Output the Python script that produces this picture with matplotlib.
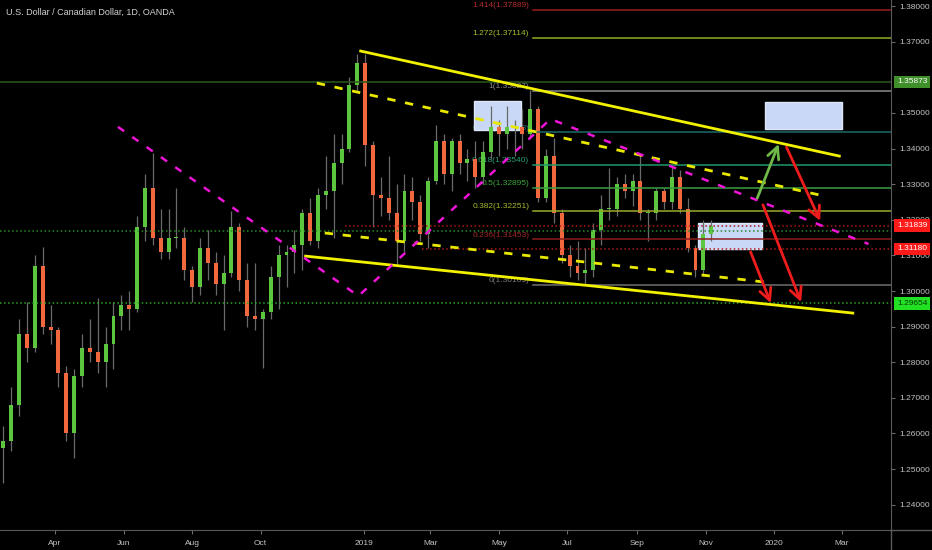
import numpy as np
import pandas as pd
import matplotlib
matplotlib.use("Agg")
import matplotlib.pyplot as plt
import matplotlib.dates as mdates
from matplotlib.lines import Line2D
from matplotlib.transforms import blended_transform_factory

plt.rcParams['font.family'] = ['Liberation Sans', 'DejaVu Sans']

# velas semanales USDCAD (semana que empieza el lunes)
primer_lunes = "2018-02-12"
apertura = [1.2560, 1.2580, 1.2680, 1.2880, 1.2840, 1.3070, 1.2900, 1.2890, 1.2770, 1.2600,
            1.2760, 1.2840, 1.2830, 1.2800, 1.2850, 1.2930, 1.2960, 1.2950, 1.3180, 1.3290,
            1.3150, 1.3110, 1.3150, 1.3150, 1.3060, 1.3010, 1.3120, 1.3080, 1.3020, 1.3050,
            1.3180, 1.3030, 1.2930, 1.2920, 1.2940, 1.3040, 1.3100, 1.3110, 1.3130, 1.3220,
            1.3140, 1.3270, 1.3280, 1.3360, 1.3400, 1.3580, 1.3640, 1.3410, 1.3270, 1.3260,
            1.3220, 1.3140, 1.3280, 1.3250, 1.3160, 1.3310, 1.3420, 1.3330, 1.3420, 1.3360,
            1.3370, 1.3320, 1.3390, 1.3460, 1.3440, 1.3460, 1.3460, 1.3440, 1.3510, 1.3260,
            1.3380, 1.3220, 1.3100, 1.3070, 1.3050, 1.3060, 1.3170, 1.3230, 1.3230, 1.3300,
            1.3280, 1.3310, 1.3220, 1.3220, 1.3280, 1.3250, 1.3320, 1.3230, 1.3120, 1.3060,
            1.3160]
maximo = [1.2620, 1.2730, 1.2920, 1.2970, 1.3100, 1.3125, 1.2960, 1.2900, 1.2790, 1.2780,
          1.2880, 1.2920, 1.2980, 1.2900, 1.2970, 1.2990, 1.3000, 1.3210, 1.3330, 1.3387,
          1.3230, 1.3230, 1.3290, 1.3180, 1.3070, 1.3150, 1.3170, 1.3110, 1.3100, 1.3225,
          1.3190, 1.3080, 1.3080, 1.2950, 1.3070, 1.3130, 1.3130, 1.3170, 1.3230, 1.3260,
          1.3290, 1.3380, 1.3440, 1.3440, 1.3600, 1.3665, 1.3665, 1.3420, 1.3320, 1.3380,
          1.3300, 1.3330, 1.3320, 1.3270, 1.3320, 1.3467, 1.3440, 1.3430, 1.3440, 1.3400,
          1.3420, 1.3420, 1.3520, 1.3480, 1.3520, 1.3480, 1.3510, 1.3565, 1.3520, 1.3400,
          1.3430, 1.3230, 1.3130, 1.3140, 1.3120, 1.3190, 1.3270, 1.3345, 1.3320, 1.3330,
          1.3330, 1.3384, 1.3230, 1.3290, 1.3290, 1.3348, 1.3340, 1.3260, 1.3130, 1.3200,
          1.3200]
minimo = [1.2460, 1.2550, 1.2650, 1.2800, 1.2830, 1.2880, 1.2850, 1.2730, 1.2580, 1.2530,
          1.2730, 1.2800, 1.2770, 1.2730, 1.2780, 1.2890, 1.2890, 1.2940, 1.3140, 1.3130,
          1.3090, 1.3090, 1.3120, 1.3030, 1.2970, 1.2990, 1.3030, 1.2990, 1.2890, 1.3040,
          1.3000, 1.2900, 1.2890, 1.2785, 1.2920, 1.2950, 1.3010, 1.3050, 1.3060, 1.3130,
          1.3120, 1.3230, 1.3150, 1.3300, 1.3390, 1.3560, 1.3350, 1.3180, 1.3210, 1.3200,
          1.3070, 1.3110, 1.3200, 1.3140, 1.3120, 1.3300, 1.3300, 1.3280, 1.3330, 1.3310,
          1.3290, 1.3300, 1.3370, 1.3380, 1.3400, 1.3380, 1.3400, 1.3430, 1.3250, 1.3250,
          1.3190, 1.3080, 1.3040, 1.3030, 1.3016, 1.3040, 1.3130, 1.3200, 1.3210, 1.3260,
          1.3240, 1.3200, 1.3140, 1.3200, 1.3230, 1.3230, 1.3220, 1.3110, 1.3040, 1.3042,
          1.3140]
cierre = [1.2580, 1.2680, 1.2880, 1.2840, 1.3070, 1.2900, 1.2890, 1.2770, 1.2600, 1.2760,
          1.2840, 1.2830, 1.2800, 1.2850, 1.2930, 1.2960, 1.2950, 1.3180, 1.3290, 1.3150,
          1.3110, 1.3150, 1.3150, 1.3060, 1.3010, 1.3120, 1.3080, 1.3020, 1.3050, 1.3180,
          1.3030, 1.2930, 1.2920, 1.2940, 1.3040, 1.3100, 1.3110, 1.3130, 1.3220, 1.3140,
          1.3270, 1.3280, 1.3360, 1.3400, 1.3580, 1.3640, 1.3410, 1.3270, 1.3260, 1.3220,
          1.3140, 1.3280, 1.3250, 1.3160, 1.3310, 1.3420, 1.3330, 1.3420, 1.3360, 1.3370,
          1.3320, 1.3390, 1.3460, 1.3440, 1.3460, 1.3460, 1.3440, 1.3510, 1.3260, 1.3380,
          1.3220, 1.3100, 1.3070, 1.3050, 1.3060, 1.3170, 1.3230, 1.3230, 1.3300, 1.3280,
          1.3310, 1.3220, 1.3220, 1.3280, 1.3250, 1.3320, 1.3230, 1.3120, 1.3060, 1.3160,
          1.3184]

# niveles fibonacci
fib_ratios = ["0", "0.236", "0.382", "0.5", "0.618", "0.786", "1", "1.272", "1.414"]
fib_precios = [1.30163, 1.31453, 1.32251, 1.32895, 1.33540, 1.34458, 1.35627, 1.37114, 1.37889]
fib_colores = ["#6e6e6e", "#8c1c1c", "#9aac28", "#3aa040", "#1f9a6a", "#1e6a6a", "#8a8a8a", "#8fae22", "#9a1e1e"]
fib_texto = ["#7a7a7a", "#a02828", "#a8b830", "#3aa83a", "#2aa070", "#2a8080", "#8a8a8a", "#a0c030", "#b02c2c"]
fib_inicio = "2019-05-31"
fib_etiqueta = "2019-05-28"

# lineas de tendencia
amarilla_sup_f = ["2018-12-29", "2020-02-28"]
amarilla_sup_p = [1.3674, 1.3379]
amarilla_inf_f = ["2018-11-10", "2020-03-11"]
amarilla_inf_p = [1.3098, 1.2938]
discont_sup_f = ["2018-11-20", "2020-02-10"]
discont_sup_p = [1.3584, 1.3270]
discont_inf_f = ["2018-11-27", "2019-12-24"]
discont_inf_p = [1.3163, 1.3025]
magenta_f = ["2018-05-27", "2018-12-27", "2019-06-16", "2020-03-25"]
magenta_p = [1.3461, 1.2986, 1.3483, 1.3132]

# rectangulos
cajas_f = [("2019-04-09", "2019-05-21"), ("2019-12-24", "2020-03-01"), ("2019-10-25", "2019-12-21")]
cajas_p = [(1.3452, 1.3534), (1.3455, 1.3531), (1.3118, 1.3191)]

# flechas (inicio, fin)
flechas_f = [("2019-12-17", "2020-01-05"), ("2020-01-12", "2020-02-11"),
             ("2019-12-11", "2019-12-29"), ("2019-12-22", "2020-01-25")]
flechas_p = [(1.3261, 1.3413), (1.3404, 1.3197), (1.3110, 1.2966), (1.3242, 1.2969)]
flechas_c = ["#6fb84a", "#ee1c1c", "#ee1c1c", "#ee1c1c"]

# lineas horizontales
horiz_p = [1.35873, 1.3168, 1.29654, 1.31839, 1.31180]
horiz_desde = ["2018-02-11", "2018-02-11", "2018-02-11", "2018-12-15", "2019-02-22"]
horiz_c = ["#2c5a1c", "#2a8a2a", "#2aa82a", "#b01818", "#b01818"]
horiz_ls = ["-", ":", ":", ":", ":"]

# etiquetas en el eje de precios
etiq_p = [1.35873, 1.31839, 1.31180, 1.29654]
etiq_fondo = ["#3f8f2a", "#ff1a1a", "#ff1a1a", "#22e022"]
etiq_texto = ["white", "white", "white", "#0a3a0a"]

ticks_y = [1.24, 1.25, 1.26, 1.27, 1.28, 1.29, 1.30, 1.31, 1.32, 1.33, 1.34, 1.35, 1.37, 1.38]
meses_f = ["2018-04-01", "2018-06-01", "2018-08-01", "2018-10-01", "2019-01-01", "2019-03-01",
           "2019-05-01", "2019-07-01", "2019-09-01", "2019-11-01", "2020-01-01", "2020-03-01"]
meses_lab = ["Apr", "Jun", "Aug", "Oct", "2019", "Mar", "May", "Jul", "Sep", "Nov", "2020", "Mar"]


def d(s):
    return mdates.date2num(pd.Timestamp(s))


fig = plt.figure(figsize=(9.32, 5.5), dpi=100, facecolor="black")
ax = fig.add_axes([0, 20 / 550, 891 / 932, 530 / 550])
ax.set_facecolor("black")
x0, x1 = d("2018-02-11"), d("2020-04-14")
ax.set_xlim(x0, x1)
ax.set_ylim(1.23287, 1.38174)

# velas
fechas = pd.date_range(primer_lunes, periods=len(cierre), freq="7D") + pd.Timedelta(days=2)
xs = mdates.date2num(fechas)
o = np.array(apertura); h = np.array(maximo); l = np.array(minimo); c = np.array(cierre)
sube = c >= o
colores = np.where(sube, "#5cc63e", "#f2683e")
ax.vlines(xs, l, h, color="#6a6a6a", lw=0.9, zorder=3)
ax.bar(xs, np.maximum(np.abs(c - o), 0.00025), bottom=np.minimum(o, c), width=3.5,
       color=colores, zorder=3.2, linewidth=0)

# fibonacci
for r, p, col, tcol in zip(fib_ratios, fib_precios, fib_colores, fib_texto):
    ax.plot([d(fib_inicio), x1], [p, p], color=col, lw=1.1, zorder=4)
    ax.text(d(fib_etiqueta), p + 0.0002, f"{r}({p:.5f})", color=tcol, fontsize=6,
            ha="right", va="bottom", zorder=2)

# horizontales
for p, desde, col, ls in zip(horiz_p, horiz_desde, horiz_c, horiz_ls):
    ax.plot([d(desde), x1], [p, p], color=col, lw=1.1, ls=ls, zorder=4)

# rectangulos
for (fa, fb), (pa, pb) in zip(cajas_f, cajas_p):
    ax.add_patch(plt.Rectangle((d(fa), pa), d(fb) - d(fa), pb - pa, facecolor="#c9d8f6",
                               edgecolor="#dde7fb", lw=1, zorder=2.5))

# lineas amarillas y magenta
ax.plot([d(f) for f in amarilla_sup_f], amarilla_sup_p, color="#f2f200", lw=2, zorder=5)
ax.plot([d(f) for f in amarilla_inf_f], amarilla_inf_p, color="#f2f200", lw=2, zorder=5)
ax.plot([d(f) for f in discont_sup_f], discont_sup_p, color="#e8e800", lw=2, ls=(0, (3, 3.5)), zorder=5)
ax.plot([d(f) for f in discont_inf_f], discont_inf_p, color="#e8e800", lw=2, ls=(0, (3, 3.5)), zorder=5)
ax.plot([d(f) for f in magenta_f], magenta_p, color="#f014d8", lw=1.8, ls=(0, (3, 4)), zorder=5)

# flechas
for (fa, fb), (pa, pb), col in zip(flechas_f, flechas_p, flechas_c):
    ax.annotate("", xy=(d(fb), pb), xytext=(d(fa), pa), zorder=6,
                arrowprops=dict(arrowstyle="->,head_length=0.7,head_width=0.35", color=col,
                                lw=2, mutation_scale=12, shrinkA=0, shrinkB=0))

# ejes
for s in ["top", "left"]:
    ax.spines[s].set_visible(False)
ax.spines["right"].set_color("#5a5a5a")
ax.spines["bottom"].set_color("#5a5a5a")
ax.yaxis.tick_right()
ax.set_yticks(ticks_y)
ax.set_yticklabels([f"{v:.5f}" for v in ticks_y])
ax.set_xticks([d(f) for f in meses_f])
ax.set_xticklabels(meses_lab)
ax.tick_params(axis="y", length=3, color="#6a6a6a", labelcolor="#c4c4c4", labelsize=6, pad=3)
ax.tick_params(axis="x", length=3, color="#6a6a6a", labelcolor="#c4c4c4", labelsize=6, pad=4)

fig.add_artist(Line2D([891 / 932, 1], [20 / 550, 20 / 550], color="#5a5a5a", lw=1))
fig.add_artist(Line2D([891 / 932, 891 / 932], [0, 20 / 550], color="#5a5a5a", lw=1))

trans = blended_transform_factory(ax.transAxes, ax.transData)
for p, fondo, tcol in zip(etiq_p, etiq_fondo, etiq_texto):
    ax.text(1.0 + 6 / 891, p, f"{p:.5f}", transform=trans, color=tcol, fontsize=6,
            ha="left", va="center", clip_on=False, zorder=10,
            bbox=dict(boxstyle="square,pad=0.35", facecolor=fondo, edgecolor="none"))

fig.text(6 / 932, 1 - 12 / 550, "U.S. Dollar / Canadian Dollar, 1D, OANDA", color="#d2d2d2",
         fontsize=6.5, va="center", ha="left")

fig.savefig("out.png", dpi=100, facecolor="black")
